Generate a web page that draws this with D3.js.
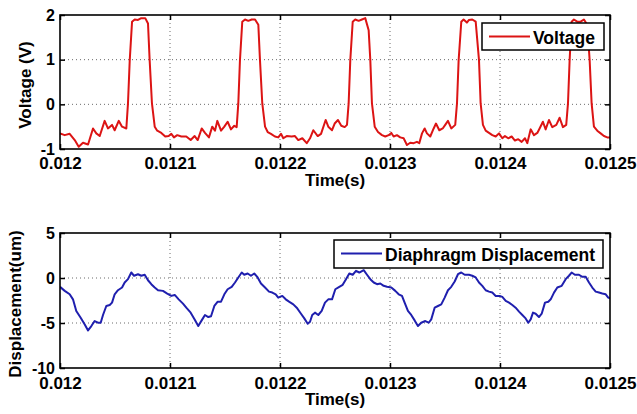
<!DOCTYPE html>
<html><head><meta charset="utf-8">
<script src="https://cdn.jsdelivr.net/npm/d3@7"></script>
<style>
html,body{margin:0;padding:0;background:#fff;}
svg{display:block;font-family:"Liberation Sans",Arial,sans-serif;font-weight:bold;}
</style></head><body>
<svg id="chart" width="637" height="414"></svg>
<script>
// Shared time axis (seconds)
const timeTicks = [0.012, 0.0121, 0.0122, 0.0123, 0.0124, 0.0125];
const timeTickLabels = ["0.012", "0.0121", "0.0122", "0.0123", "0.0124", "0.0125"];
const voltageTicks = [-1, 0, 1, 2];
const voltageTickLabels = ["-1", "0", "1", "2"];
const displacementTicks = [-10, -5, 0, 5];
const displacementTickLabels = ["-10", "-5", "0", "5"];

// Drive voltage (V)
const voltageTime = [
  0.0120000, 0.0120043, 0.0120088, 0.0120134, 0.0120170, 0.0120209, 0.0120255, 0.0120300, 0.0120330, 0.0120361,
  0.0120406, 0.0120436, 0.0120473, 0.0120497, 0.0120534, 0.0120564, 0.0120603, 0.0120618, 0.0120634, 0.0120655,
  0.0120679, 0.0120709, 0.0120739, 0.0120775, 0.0120800, 0.0120815, 0.0120836, 0.0120861, 0.0120884, 0.0120921,
  0.0120957, 0.0120988, 0.0121012, 0.0121036, 0.0121066, 0.0121103, 0.0121148, 0.0121188, 0.0121224, 0.0121252,
  0.0121288, 0.0121318, 0.0121354, 0.0121384, 0.0121409, 0.0121430, 0.0121464, 0.0121494, 0.0121524, 0.0121554,
  0.0121584, 0.0121606, 0.0121621, 0.0121636, 0.0121657, 0.0121682, 0.0121712, 0.0121743, 0.0121773, 0.0121803,
  0.0121818, 0.0121839, 0.0121864, 0.0121888, 0.0121918, 0.0121954, 0.0121984, 0.0122009, 0.0122030, 0.0122061,
  0.0122106, 0.0122136, 0.0122166, 0.0122203, 0.0122243, 0.0122273, 0.0122303, 0.0122343, 0.0122373, 0.0122415,
  0.0122439, 0.0122473, 0.0122497, 0.0122527, 0.0122557, 0.0122588, 0.0122609, 0.0122624, 0.0122639, 0.0122661,
  0.0122684, 0.0122715, 0.0122745, 0.0122775, 0.0122806, 0.0122821, 0.0122836, 0.0122861, 0.0122891, 0.0122927,
  0.0122957, 0.0122988, 0.0123012, 0.0123033, 0.0123063, 0.0123093, 0.0123124, 0.0123154, 0.0123184, 0.0123215,
  0.0123245, 0.0123266, 0.0123291, 0.0123315, 0.0123336, 0.0123366, 0.0123397, 0.0123418, 0.0123448, 0.0123479,
  0.0123502, 0.0123527, 0.0123557, 0.0123593, 0.0123609, 0.0123624, 0.0123648, 0.0123669, 0.0123699, 0.0123718,
  0.0123748, 0.0123779, 0.0123809, 0.0123824, 0.0123845, 0.0123870, 0.0123900, 0.0123930, 0.0123961, 0.0123991,
  0.0124021, 0.0124045, 0.0124075, 0.0124106, 0.0124136, 0.0124166, 0.0124197, 0.0124227, 0.0124248, 0.0124279,
  0.0124309, 0.0124339, 0.0124360, 0.0124390, 0.0124415, 0.0124445, 0.0124475, 0.0124512, 0.0124542, 0.0124572,
  0.0124602, 0.0124618, 0.0124633, 0.0124651, 0.0124672, 0.0124702, 0.0124733, 0.0124763, 0.0124793, 0.0124815,
  0.0124833, 0.0124854, 0.0124884, 0.0124915, 0.0124945, 0.0124975, 0.0125000
];
const voltage = [
  -0.65, -0.69, -0.66, -0.80, -0.95, -0.86, -0.90, -0.54, -0.65, -0.71,
  -0.37, -0.54, -0.46, -0.58, -0.37, -0.50, -0.54, 0.02, 0.99, 1.85,
  1.90, 1.89, 1.93, 1.93, 1.81, 0.99, 0.02, -0.50, -0.59, -0.64,
  -0.72, -0.71, -0.66, -0.74, -0.69, -0.72, -0.72, -0.80, -0.71, -0.80,
  -0.54, -0.64, -0.74, -0.50, -0.59, -0.37, -0.59, -0.50, -0.39, -0.56,
  -0.48, -0.51, 0.02, 0.99, 1.85, 1.90, 1.87, 1.90, 1.90, 1.78,
  0.99, 0.02, -0.50, -0.62, -0.66, -0.72, -0.74, -0.66, -0.76, -0.71,
  -0.72, -0.71, -0.80, -0.76, -0.87, -0.76, -0.58, -0.71, -0.66, -0.35,
  -0.50, -0.58, -0.43, -0.35, -0.48, -0.51, -0.46, 0.02, 0.99, 1.85,
  1.90, 1.87, 1.90, 1.93, 1.66, 0.99, 0.02, -0.50, -0.62, -0.69,
  -0.72, -0.69, -0.64, -0.72, -0.69, -0.74, -0.76, -0.91, -0.86, -0.87,
  -0.84, -0.87, -0.65, -0.54, -0.65, -0.72, -0.54, -0.43, -0.58, -0.54,
  -0.46, -0.37, -0.54, -0.46, 0.02, 0.99, 1.85, 1.90, 1.83, 1.89,
  1.90, 1.85, 0.99, 0.02, -0.46, -0.59, -0.64, -0.69, -0.72, -0.65,
  -0.76, -0.71, -0.76, -0.72, -0.81, -0.78, -0.84, -0.76, -0.87, -0.56,
  -0.69, -0.64, -0.54, -0.39, -0.56, -0.35, -0.51, -0.46, -0.30, -0.51,
  -0.46, 0.02, 0.99, 1.85, 1.90, 1.85, 1.85, 1.90, 1.78, 0.99,
  0.02, -0.50, -0.59, -0.65, -0.71, -0.74, -0.74
];

// Diaphragm displacement (um)
const displacementTime = [
  0.0120000, 0.0120043, 0.0120088, 0.0120118, 0.0120148, 0.0120188, 0.0120225, 0.0120255, 0.0120285, 0.0120315,
  0.0120345, 0.0120370, 0.0120391, 0.0120421, 0.0120452, 0.0120473, 0.0120497, 0.0120527, 0.0120564, 0.0120588,
  0.0120618, 0.0120648, 0.0120673, 0.0120709, 0.0120739, 0.0120770, 0.0120800, 0.0120830, 0.0120861, 0.0120891,
  0.0120936, 0.0120975, 0.0121012, 0.0121043, 0.0121079, 0.0121118, 0.0121148, 0.0121188, 0.0121224, 0.0121257,
  0.0121288, 0.0121318, 0.0121348, 0.0121373, 0.0121403, 0.0121434, 0.0121464, 0.0121494, 0.0121524, 0.0121561,
  0.0121591, 0.0121621, 0.0121652, 0.0121675, 0.0121706, 0.0121736, 0.0121766, 0.0121797, 0.0121827, 0.0121864,
  0.0121900, 0.0121930, 0.0121961, 0.0121984, 0.0122021, 0.0122052, 0.0122082, 0.0122121, 0.0122152, 0.0122191,
  0.0122221, 0.0122252, 0.0122273, 0.0122293, 0.0122318, 0.0122348, 0.0122379, 0.0122409, 0.0122439, 0.0122473,
  0.0122503, 0.0122539, 0.0122570, 0.0122600, 0.0122630, 0.0122661, 0.0122691, 0.0122721, 0.0122761, 0.0122791,
  0.0122821, 0.0122852, 0.0122882, 0.0122912, 0.0122942, 0.0122973, 0.0123012, 0.0123048, 0.0123079, 0.0123109,
  0.0123133, 0.0123163, 0.0123193, 0.0123224, 0.0123254, 0.0123284, 0.0123321, 0.0123352, 0.0123375, 0.0123406,
  0.0123436, 0.0123466, 0.0123497, 0.0123527, 0.0123557, 0.0123588, 0.0123618, 0.0123648, 0.0123679, 0.0123718,
  0.0123748, 0.0123779, 0.0123809, 0.0123839, 0.0123870, 0.0123900, 0.0123930, 0.0123961, 0.0123997, 0.0124021,
  0.0124052, 0.0124082, 0.0124112, 0.0124142, 0.0124173, 0.0124203, 0.0124233, 0.0124257, 0.0124279, 0.0124300,
  0.0124324, 0.0124354, 0.0124379, 0.0124409, 0.0124439, 0.0124461, 0.0124491, 0.0124521, 0.0124561, 0.0124597,
  0.0124627, 0.0124651, 0.0124681, 0.0124718, 0.0124748, 0.0124779, 0.0124809, 0.0124839, 0.0124870, 0.0124900,
  0.0124930, 0.0124961, 0.0124984, 0.0125000
];
const displacement = [
  -0.98, -1.43, -1.81, -2.37, -3.66, -4.41, -5.16, -5.83, -5.34, -4.78,
  -4.97, -4.97, -4.11, -3.11, -3.00, -2.74, -1.81, -1.36, -1.06, -0.50,
  -0.13, 0.61, 0.25, 0.42, 0.25, 0.36, -0.25, -0.69, -1.06, -1.36,
  -1.43, -1.73, -1.99, -1.88, -2.37, -2.85, -3.30, -3.85, -4.60, -5.34,
  -4.71, -4.11, -4.34, -4.25, -3.11, -2.63, -2.63, -1.81, -1.25, -0.98,
  -0.50, 0.06, 0.61, 0.36, 0.50, 0.25, 0.50, 0.06, -0.61, -1.06,
  -1.51, -1.62, -1.81, -2.18, -1.99, -2.37, -2.63, -2.93, -3.30, -3.97,
  -4.49, -5.08, -4.86, -4.11, -3.85, -4.11, -3.66, -2.74, -2.37, -2.37,
  -1.25, -0.98, -0.76, -0.13, 0.50, 0.36, 0.80, 0.61, 0.87, 0.36,
  -0.13, -0.50, -0.69, -0.61, -0.87, -0.98, -1.06, -1.43, -1.81, -1.99,
  -2.74, -3.66, -4.11, -4.71, -5.34, -4.97, -4.78, -4.97, -4.60, -3.30,
  -3.11, -2.93, -2.18, -1.36, -0.98, -0.39, 0.42, 0.61, 0.36, 0.36,
  0.25, 0.06, -0.50, -0.87, -1.36, -1.51, -1.62, -1.99, -1.99, -2.10,
  -2.55, -2.74, -3.00, -3.30, -3.74, -4.11, -4.49, -4.97, -4.60, -3.85,
  -3.97, -4.34, -3.97, -2.74, -2.63, -2.37, -1.62, -1.06, -0.87, -0.13,
  0.25, 0.61, 0.36, 0.36, 0.13, 0.13, -0.50, -1.06, -1.51, -1.62,
  -1.73, -1.81, -2.18, -2.25
];

const svg = d3.select("#chart");
const x = d3.scaleLinear().domain([timeTicks[0], timeTicks[timeTicks.length - 1]]).range([60, 610]);

function drawPanel(cfg) {
  const g = svg.append("g");
  const y = d3.scaleLinear().domain(cfg.domain).range([cfg.bottom, cfg.top]);
  const id = "clip-" + cfg.key;

  g.append("clipPath").attr("id", id)
    .append("rect").attr("x", 60).attr("y", cfg.top).attr("width", 550).attr("height", cfg.bottom - cfg.top);

  // dotted grid
  const grid = g.append("g").attr("stroke", "#6a6a6a").attr("stroke-width", 1).attr("stroke-dasharray", "1,3");
  grid.selectAll("line.v").data(timeTicks.slice(1, -1)).join("line").attr("class", "v")
    .attr("x1", d => x(d)).attr("x2", d => x(d)).attr("y1", cfg.top).attr("y2", cfg.bottom);
  grid.selectAll("line.h").data(cfg.ticks.slice(1, -1)).join("line").attr("class", "h")
    .attr("x1", 60).attr("x2", 610).attr("y1", d => y(d)).attr("y2", d => y(d));

  // data trace
  const line = d3.line().x(d => x(d[0])).y(d => y(d[1]));
  g.append("path")
    .datum(d3.zip(cfg.time, cfg.values))
    .attr("clip-path", `url(#${id})`)
    .attr("fill", "none").attr("stroke", cfg.color).attr("stroke-width", 2)
    .attr("stroke-linejoin", "round")
    .attr("d", line);

  // axes with inward ticks on all four sides
  const fmtX = (d, i) => timeTickLabels[i];
  const fmtY = (d, i) => cfg.labels[i];
  const axes = [
    g.append("g").attr("transform", `translate(0,${cfg.bottom})`)
      .call(d3.axisBottom(x).tickValues(timeTicks).tickFormat(fmtX).tickSizeInner(-5).tickSizeOuter(0).tickPadding(cfg.xPad)),
    g.append("g").attr("transform", `translate(0,${cfg.top})`)
      .call(d3.axisTop(x).tickValues(timeTicks).tickFormat("").tickSizeInner(-5).tickSizeOuter(0)),
    g.append("g").attr("transform", "translate(60,0)")
      .call(d3.axisLeft(y).tickValues(cfg.ticks).tickFormat(fmtY).tickSizeInner(-5).tickSizeOuter(0).tickPadding(5)),
    g.append("g").attr("transform", "translate(610,0)")
      .call(d3.axisRight(y).tickValues(cfg.ticks).tickFormat("").tickSizeInner(-5).tickSizeOuter(0))
  ];
  axes.forEach(a => {
    a.attr("font-family", null).attr("font-size", null);
    a.select(".domain").remove();
    a.selectAll(".tick line").attr("stroke", "#000").attr("stroke-width", 1.5);
  });
  axes[0].selectAll("text").attr("font-size", 17).attr("fill", "#000");
  axes[2].selectAll("text").attr("font-size", 16).attr("fill", "#000");

  g.append("rect").attr("x", 60).attr("y", cfg.top).attr("width", 550).attr("height", cfg.bottom - cfg.top)
    .attr("fill", "none").attr("stroke", "#000").attr("stroke-width", 1.6);

  // axis titles
  g.append("text").attr("x", 335).attr("y", cfg.xTitleY).attr("text-anchor", "middle")
    .attr("font-size", 17).text("Time(s)");
  g.append("text").attr("transform", `translate(${cfg.yTitleX},${cfg.yTitleY}) rotate(-90)`)
    .attr("text-anchor", "middle").attr("font-size", 17).text(cfg.yTitle);

  // legend
  const L = cfg.legend;
  const lg = g.append("g");
  lg.append("rect").attr("x", L.x).attr("y", L.y).attr("width", L.w).attr("height", L.h)
    .attr("fill", "#fff").attr("stroke", "#000").attr("stroke-width", 1.5);
  lg.append("line").attr("x1", L.x + 7).attr("x2", L.x + 48).attr("y1", L.y + 13.5).attr("y2", L.y + 13.5)
    .attr("stroke", cfg.color).attr("stroke-width", 2);
  lg.append("text").attr("x", L.x + 51).attr("y", L.y + 21).attr("font-size", 17.5).text(cfg.name);
}

drawPanel({
  key: "v", top: 15, bottom: 149, domain: [-1, 2], ticks: voltageTicks, labels: voltageTickLabels,
  time: voltageTime, values: voltage, color: "#dc1414", xPad: 8,
  xTitleY: 186, yTitle: "Voltage (V)", yTitleX: 31, yTitleY: 85,
  name: "Voltage", legend: { x: 482, y: 23, w: 122, h: 27 }
});
drawPanel({
  key: "d", top: 233, bottom: 368, domain: [-10, 5], ticks: displacementTicks, labels: displacementTickLabels,
  time: displacementTime, values: displacement, color: "#1f1fae", xPad: 8.5,
  xTitleY: 405, yTitle: "Displacement(um)", yTitleX: 21, yTitleY: 304,
  name: "Diaphragm Displacement", legend: { x: 334, y: 240, w: 269, h: 28 }
});
</script>
</body></html>
